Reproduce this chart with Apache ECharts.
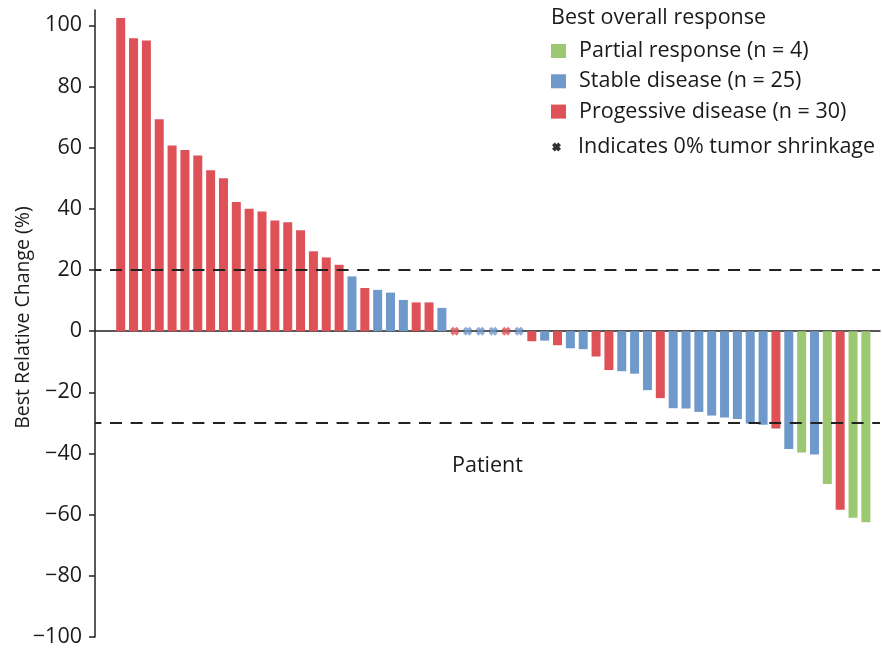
<!DOCTYPE html>
<html>
<head>
<meta charset="utf-8">
<script src="https://cdn.jsdelivr.net/npm/echarts@6/dist/echarts.min.js"></script>
<style>
  html, body { margin: 0; padding: 0; background: #fff; }
  #chart { width: 882px; height: 650px; }
</style>
</head>
<body>
<div id="chart"></div>
<script>
// Waterfall of best relative change in tumour size, one bar per patient
const patients = Array.from({ length: 59 }, (_, i) => i + 1);

// Best relative change (%) per patient, sorted from largest growth to largest shrinkage
const changes = [
  102.4, 95.8, 95.0, 69.3, 60.7, 59.2, 57.4, 52.6, 50.0, 42.2,
  40.0, 39.1, 36.2, 35.6, 33.0, 26.1, 24.1, 21.7, 17.9, 14.1,
  13.5, 12.6, 10.2, 9.4, 9.4, 7.6, 0, 0, 0, 0,
  0, 0, -3.3, -3.1, -4.6, -5.6, -5.9, -8.3, -12.7, -13.1,
  -13.9, -19.3, -21.9, -25.2, -25.3, -26.4, -27.6, -28.2, -28.7, -30.2,
  -30.6, -31.8, -38.5, -39.7, -40.3, -50.0, -58.4, -61.0, -62.5
];

// Best overall response: PR partial response, SD stable disease, PD progressive disease
const responses = [
  'PD','PD','PD','PD','PD','PD','PD','PD','PD','PD',
  'PD','PD','PD','PD','PD','PD','PD','PD','SD','PD',
  'SD','SD','SD','PD','PD','SD','PD','SD','SD','SD',
  'PD','SD','PD','SD','PD','SD','SD','PD','PD','SD',
  'SD','SD','PD','SD','SD','SD','SD','SD','SD','SD',
  'SD','PD','SD','PR','SD','PR','PD','PR','PR'
];

const responseCodes = ['PR', 'SD', 'PD'];
const responseLabels = ['Partial response', 'Stable disease', 'Progessive disease'];
const responseColors = ['#9cc872', '#6f98cb', '#de5157'];

const yTicks = [-100, -80, -60, -40, -20, 0, 20, 40, 60, 80, 100];
const thresholds = [20, -30];

const shrinkLabel = 'Indicates 0% tumor shrinkage';
const crossPath = 'path://M0,3 L3,0 L5,2 L7,0 L10,3 L8,5 L10,7 L7,10 L5,8 L3,10 L0,7 L2,5 Z';

const fontFamily = '"Open Sans", "Noto Sans", sans-serif';
const ink = '#1a1a1a';

const seriesNames = responseCodes.map((code, k) => {
  const n = responses.filter(r => r === code).length;
  return responseLabels[k] + ' (n = ' + n + ')';
});

const barSeries = responseCodes.map((code, k) => ({
  name: seriesNames[k],
  type: 'bar',
  barWidth: 9,
  barGap: '-100%',
  itemStyle: { color: responseColors[k] },
  data: patients
    .filter((p, i) => responses[i] === code && changes[i] !== 0)
    .map(p => [p, changes[p - 1]]),
  markLine: k === 0 ? {
    silent: true,
    symbol: 'none',
    label: { show: false },
    lineStyle: { color: '#222', width: 2, type: [12, 8.6], dashOffset: 5.6 },
    data: thresholds.map(v => ({ yAxis: v }))
  } : undefined,
  z: 2
}));

const zeroSeries = {
  name: shrinkLabel,
  type: 'scatter',
  symbol: crossPath,
  symbolSize: 9,
  z: 5,
  data: patients
    .filter((p, i) => changes[i] === 0)
    .map(p => ({
      value: [p, 0],
      itemStyle: { color: responseColors[responseCodes.indexOf(responses[p - 1])] }
    }))
};

const chart = echarts.init(document.getElementById('chart'));
chart.setOption({
  animation: false,
  backgroundColor: '#fff',
  textStyle: { fontFamily: fontFamily },
  title: {
    text: 'Best overall response',
    left: 551,
    top: 7,
    padding: 0,
    textStyle: { fontFamily: fontFamily, fontSize: 21.5, fontWeight: 'normal', color: ink }
  },
  legend: [
    {
      orient: 'vertical',
      left: 551,
      top: 40,
      padding: 0,
      itemWidth: 15,
      itemHeight: 14,
      itemGap: 8.3,
      selectedMode: false,
      icon: 'rect',
      textStyle: { fontFamily: fontFamily, fontSize: 21.5, color: ink, padding: [0, 0, 0, 8] },
      data: seriesNames.map(n => ({ name: n }))
    },
    {
      orient: 'vertical',
      left: 552,
      top: 136,
      padding: 0,
      itemWidth: 9,
      itemHeight: 9,
      selectedMode: false,
      textStyle: { fontFamily: fontFamily, fontSize: 21.5, color: ink, padding: [0, 0, 0, 12] },
      data: [{ name: shrinkLabel, icon: crossPath, itemStyle: { color: '#000' } }]
    }
  ],
  grid: { left: 95, right: 2, top: 10, bottom: 13, containLabel: false, outerBoundsMode: 'none' },
  xAxis: {
    type: 'value',
    min: -1,
    max: 60.1,
    name: 'Patient',
    nameLocation: 'middle',
    nameGap: -182,
    nameMoveOverlap: false,
    nameTextStyle: { fontFamily: fontFamily, fontSize: 21.5, color: ink },
    axisLine: { show: true, onZero: true, lineStyle: { color: '#222', width: 1.5 } },
    axisTick: { show: false },
    axisLabel: { show: false },
    splitLine: { show: false }
  },
  yAxis: {
    type: 'value',
    min: -100,
    max: 105,
    name: 'Best Relative Change (%)',
    nameLocation: 'middle',
    nameGap: 62,
    nameMoveOverlap: false,
    nameTextStyle: { fontFamily: fontFamily, fontSize: 19.5, color: ink, padding: [0, 0, 0, 12] },
    axisLine: { show: true, onZero: false, lineStyle: { color: '#222', width: 1.5 } },
    axisTick: { show: true, length: 6, customValues: yTicks, lineStyle: { color: '#222', width: 1.5 } },
    axisLabel: {
      customValues: yTicks,
      margin: 13,
      fontFamily: fontFamily,
      fontSize: 21.5,
      color: ink,
      formatter: v => (v < 0 ? '\u2212' + Math.abs(v) : String(v))
    },
    splitLine: { show: false }
  },
  series: [...barSeries, zeroSeries]
});
</script>
</body>
</html>
